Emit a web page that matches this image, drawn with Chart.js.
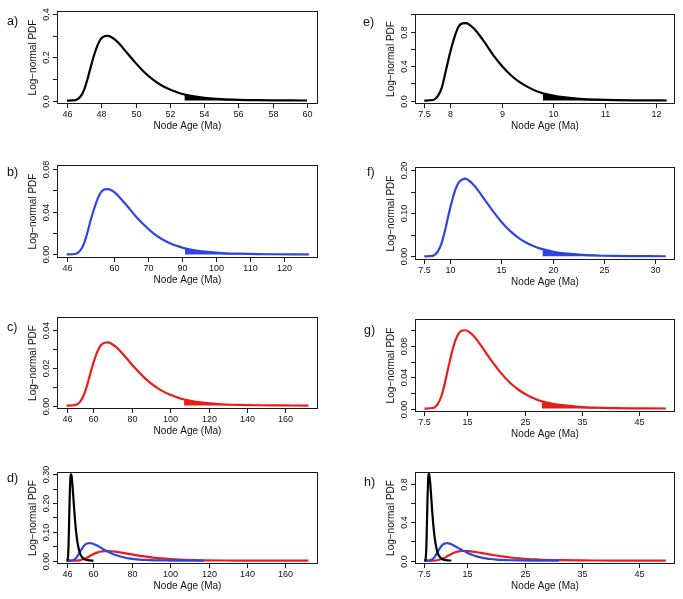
<!DOCTYPE html>
<html>
<head>
<meta charset="utf-8">
<script src="https://cdn.jsdelivr.net/npm/chart.js@4.4.1/dist/chart.umd.min.js"></script>
<style>
body{margin:0;background:#fff;width:683px;height:599px;position:relative;overflow:hidden}
canvas{position:absolute}
</style>
</head>
<body>
<script>
// curves (age in Ma, log-normal density)
const ageA = [46,46.5,46.8,47,47.2,47.4,47.6,47.8,48,48.2,48.4,48.6,48.8,49,49.5,50,50.5,51,51.5,52,52.5,52.85,53.5,54,55,56,57,58,59,60];
const pdfA = [0,0.002,0.02,0.05,0.1,0.16,0.215,0.26,0.288,0.299,0.3,0.294,0.283,0.268,0.222,0.175,0.133,0.098,0.071,0.051,0.036,0.028,0.018,0.013,0.0065,0.0033,0.0017,0.0009,0.0005,0.0003];
const tailA = 52.85;

const ageB = [46,48.5,50.1,51.1,52.1,53.1,54.2,55.2,56.2,57.2,58.2,59.3,60.3,61.3,63.9,66.4,69,71.5,74,76.6,79.2,80.9,84.2,86.8,91.9,97,102.1,107.2,112.3,117.4];
const pdfB = [0,0.0004,0.0041,0.0101,0.0202,0.0323,0.0435,0.0525,0.0583,0.0606,0.0608,0.0595,0.0573,0.0542,0.0449,0.0354,0.027,0.0199,0.0144,0.0103,0.0073,0.0057,0.0036,0.0026,0.0013,0.0007,0.00035,0.00019,0.0001,0.00006];
const tailB = 80.9;

const ageC = [46,50.5,53.2,55,56.8,58.6,60.4,62.2,64,65.8,67.6,69.4,71.2,73,77.5,82,86.5,91,95.5,100,104.5,107.2,113.5,118,127,136,145,154,163,172];
const pdfC = [0,0.0002,0.0022,0.0056,0.0111,0.0178,0.0239,0.0289,0.032,0.0332,0.0334,0.0327,0.0314,0.0298,0.0247,0.0194,0.0148,0.0109,0.0079,0.0057,0.004,0.0032,0.002,0.0014,0.0007,0.00037,0.00019,0.0001,0.00006,0.00003];
const tailC = 107.2;

const ageE = [7.5,7.67,7.77,7.84,7.9,7.97,8.04,8.11,8.17,8.24,8.31,8.37,8.44,8.51,8.68,8.84,9.01,9.18,9.35,9.52,9.68,9.8,10.02,10.19,10.52,10.86,11.19,11.53,11.86,12.2];
const pdfE = [0,0.006,0.06,0.15,0.3,0.48,0.645,0.78,0.864,0.897,0.9,0.882,0.849,0.804,0.666,0.525,0.399,0.294,0.213,0.153,0.108,0.084,0.054,0.039,0.0195,0.0099,0.0051,0.0027,0.0015,0.0009];
const tailE = 9.8;

const ageF = [7.5,8.34,8.84,9.18,9.52,9.85,10.19,10.52,10.86,11.2,11.53,11.87,12.2,12.54,13.38,14.22,15.06,15.9,16.74,17.58,18.42,19,20.1,20.9,22.6,24.3,26,27.7,29.3,31];
const pdfF = [0,0.0012,0.012,0.03,0.06,0.095,0.128,0.155,0.172,0.179,0.181,0.176,0.169,0.16,0.132,0.104,0.079,0.058,0.042,0.03,0.0214,0.0167,0.0107,0.0077,0.0039,0.002,0.001,0.00054,0.0003,0.00018];
const tailF = 19;

const ageG = [7.5,9,9.9,10.5,11.1,11.7,12.3,12.9,13.5,14.1,14.7,15.3,15.9,16.5,18,19.5,21,22.5,24,25.5,27,28.05,30,31.5,34.5,37.5,40.5,43.5,46.5,49.7];
const pdfG = [0,0.0007,0.0067,0.0167,0.0333,0.0533,0.0717,0.0867,0.096,0.0997,0.1,0.098,0.0943,0.0893,0.074,0.0583,0.0443,0.0327,0.0237,0.017,0.012,0.0093,0.006,0.0043,0.0022,0.0011,0.00057,0.0003,0.00017,0.0001];
const tailG = 28.05;

// axis ticks and their printed labels
const xTicksA = [46,48,50,52,54,56,58,60];
const xLabelsA = ['46','48','50','52','54','56','58','60'];
const xTicksB = [46,60,70,80,90,100,110];
const xLabelsB = ['46','60','70','90','100','110','120'];
const xTicksC = [46,60,80,100,120,140,160];
const xLabelsC = ['46','60','80','100','120','140','160'];
const xTicksE = [7.5,8,9,10,11,12];
const xLabelsE = ['7.5','8','9','10','11','12'];
const xTicksF = [7.5,10,15,20,25,30];
const xLabelsF = ['7.5','10','15','20','25','30'];
const xTicksG = [7.5,15,25,35,45];
const xLabelsG = ['7.5','15','25','35','45'];

const yTicksA = [0,0.1,0.2,0.3,0.4];
const yLabelsA = ['0.0','','0.2','','0.4'];
const yTicksB = [0,0.02,0.04,0.06,0.08];
const yLabelsB = ['0.00','','0.04','','0.08'];
const yTicksC = [0,0.01,0.02,0.03,0.04];
const yLabelsC = ['0.00','','0.02','','0.04'];
const yTicksD = [0,0.05,0.1,0.15,0.2,0.25,0.3];
const yLabelsD = ['0.00','','0.10','','0.20','','0.30'];
const yTicksE = [0,0.2,0.4,0.6,0.8,1.0];
const yLabelsE = ['0.0','','0.4','','0.8',''];
const yTicksF = [0,0.05,0.1,0.15,0.2];
const yLabelsF = ['0.00','','0.10','','0.20'];
const yTicksG = [0,0.02,0.04,0.06,0.08,0.1];
const yLabelsG = ['0.00','','0.04','','0.08',''];
const yTicksH = [0,0.2,0.4,0.6,0.8];
const yLabelsH = ['0.0','','0.4','','0.8'];

const BLACK = '#000000', BLUE = '#2f45e0', RED = '#ec1b1b';
const FONT = '"Liberation Sans", Arial, Helvetica, sans-serif';

const panels = [
  {tag:'a)', cell:[0,0,340,145], box:[57,11,318,104], xr:[45.42,60.64], yr:[-0.016,0.416], xt:xTicksA, xl:xLabelsA, yt:yTicksA, yl:yLabelsA, curves:[[ageA,pdfA,BLACK,tailA]]},
  {tag:'b)', cell:[0,145,340,150], box:[57,165,318,258], xr:[43.15,120.1], yr:[-0.0033,0.0833], xt:xTicksB, xl:xLabelsB, yt:yTicksB, yl:yLabelsB, curves:[[ageB,pdfB,BLUE,tailB]]},
  {tag:'c)', cell:[0,295,340,150], box:[57,317,318,409], xr:[41,177], yr:[-0.0018,0.0468], xt:xTicksC, xl:xLabelsC, yt:yTicksC, yl:yLabelsC, curves:[[ageC,pdfC,RED,tailC]]},
  {tag:'d)', cell:[0,445,340,154], box:[57,472,318,564], xr:[41,177], yr:[-0.0115,0.308], xt:xTicksC, xl:xLabelsC, yt:yTicksD, yl:yLabelsD, curves:[[ageA,pdfA,BLACK,null],[ageB,pdfB,BLUE,null],[ageC,pdfC,RED,null]]},
  {tag:'e)', cell:[340,0,343,145], box:[415,14,675,104], xr:[7.32,12.36], yr:[-0.04,1.005], xt:xTicksE, xl:xLabelsE, yt:yTicksE, yl:yLabelsE, curves:[[ageE,pdfE,BLACK,tailE]]},
  {tag:'f)', cell:[340,145,343,150], box:[415,167,675,260], xr:[6.6,31.9], yr:[-0.0085,0.208], xt:xTicksF, xl:xLabelsF, yt:yTicksF, yl:yLabelsF, curves:[[ageF,pdfF,BLUE,tailF]]},
  {tag:'g)', cell:[340,295,343,150], box:[415,319,675,412], xr:[5.85,51.3], yr:[-0.0044,0.1144], xt:xTicksG, xl:xLabelsG, yt:yTicksG, yl:yLabelsG, curves:[[ageG,pdfG,RED,tailG]]},
  {tag:'h)', cell:[340,445,343,154], box:[415,472,675,564], xr:[5.85,51.3], yr:[-0.035,0.92], xt:xTicksG, xl:xLabelsG, yt:yTicksH, yl:yLabelsH, curves:[[ageE,pdfE,BLACK,null],[ageF,pdfF,BLUE,null],[ageG,pdfG,RED,null]]}
];

// R-style box, ticks, labels and panel letter
const rAxes = {
  id:'rAxes',
  afterDraw(chart, args, o){
    const ctx = chart.ctx, ca = chart.chartArea;
    const xs = chart.scales.x, ys = chart.scales.y;
    ctx.save();
    ctx.strokeStyle = '#1a1a1a';
    ctx.lineWidth = 1;
    ctx.strokeRect(Math.round(ca.left)+0.5, Math.round(ca.top)+0.5, Math.round(ca.right-ca.left)-1, Math.round(ca.bottom-ca.top)-1);
    ctx.fillStyle = '#111';
    ctx.font = '9px ' + FONT;
    ctx.textAlign = 'center';
    ctx.textBaseline = 'middle';
    o.xt.forEach((v,i)=>{
      const px = Math.round(xs.getPixelForValue(v)) + 0.5;
      ctx.beginPath(); ctx.moveTo(px, ca.bottom); ctx.lineTo(px, ca.bottom+4); ctx.stroke();
      ctx.fillText(o.xl[i], px, ca.bottom+10.5);
    });
    o.yt.forEach((v,i)=>{
      const py = Math.round(ys.getPixelForValue(v)) + 0.5;
      ctx.beginPath(); ctx.moveTo(ca.left, py); ctx.lineTo(ca.left-4, py); ctx.stroke();
      if(o.yl[i]){
        ctx.save(); ctx.translate(ca.left-10.5, py); ctx.rotate(-Math.PI/2);
        ctx.fillText(o.yl[i], 0, 0); ctx.restore();
      }
    });
    ctx.font = '10px ' + FONT;
    ctx.fillText('Node Age (Ma)', (ca.left+ca.right)/2, ca.bottom+22.5);
    ctx.save(); ctx.translate(ca.left-24, (ca.top+ca.bottom)/2); ctx.rotate(-Math.PI/2);
    ctx.fillText('Log\u2212normal PDF', 0, 0); ctx.restore();
    ctx.font = '12.5px ' + FONT;
    ctx.textAlign = 'left';
    ctx.fillText(o.tag, o.tagX, o.tagY);
    ctx.restore();
  }
};

const tagPos = [[7,22],[7,173],[7,328],[7,479],[363,22.5],[367,173],[364,331],[364,483]];

panels.forEach((p,k)=>{
  const [cx,cy,cw,ch] = p.cell;
  const [bl,bt,br,bb] = p.box;
  const cv = document.createElement('canvas');
  cv.width = cw; cv.height = ch;
  cv.style.left = cx+'px'; cv.style.top = cy+'px';
  document.body.appendChild(cv);

  const datasets = [];
  p.curves.forEach(([xsArr, ysArr, col, tail])=>{
    const pts = xsArr.map((x,i)=>({x:x, y:ysArr[i]}));
    datasets.push({data:pts, borderColor:col, borderWidth:2.2, pointRadius:0, fill:false, cubicInterpolationMode:'monotone'});
    if(tail!==null){
      datasets.push({data:pts.filter(d=>d.x>=tail), borderColor:col, borderWidth:0, backgroundColor:col, pointRadius:0, fill:'origin', cubicInterpolationMode:'monotone'});
    }
  });

  new Chart(cv, {
    type:'line',
    data:{datasets},
    options:{
      responsive:false, animation:false, devicePixelRatio:1,
      layout:{padding:{left:bl-cx, top:bt-cy, right:cx+cw-br, bottom:cy+ch-bb}},
      scales:{
        x:{type:'linear', min:p.xr[0], max:p.xr[1], display:false},
        y:{type:'linear', min:p.yr[0], max:p.yr[1], display:false}
      },
      plugins:{
        legend:{display:false}, tooltip:{enabled:false},
        rAxes:{xt:p.xt, xl:p.xl, yt:p.yt, yl:p.yl, tag:p.tag, tagX:tagPos[k][0]-cx, tagY:tagPos[k][1]-cy}
      }
    },
    plugins:[rAxes]
  });
});
</script>
</body>
</html>
